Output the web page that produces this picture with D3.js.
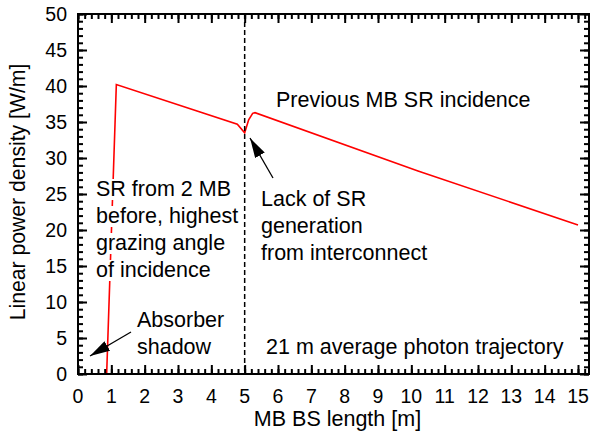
<!DOCTYPE html>
<html><head><meta charset="utf-8">
<script src="https://cdn.jsdelivr.net/npm/d3@7"></script>
<style>body{margin:0;background:#fff}svg{display:block}text{font-family:"Liberation Sans",Arial,Helvetica,sans-serif;fill:#000}</style>
</head><body><svg id="c" width="592" height="443"></svg>
<script>
const xs = [0, 0.86, 1.15, 4.78, 5.0, 5.12, 5.24, 5.31, 10.2, 15];
const ys = [0, 0, 40.2, 34.7, 33.5, 35.3, 36.2, 36.3, 28.2, 20.7];
const xTicks = d3.range(0, 16, 1);
const yTicks = d3.range(0, 51, 5);
const xMinor = d3.range(0, 15.31, 0.2);
const yMinor = d3.range(0, 50.1, 1);
const xTitle = "MB BS length [m]";
const yTitle = "Linear power density [W/m]";
const notes = [
  {lines:["Previous MB SR incidence"], x:276, y:107, bg:false},
  {lines:["SR from 2 MB","before, highest","grazing angle","of incidence"], x:96, y:196, bg:true},
  {lines:["Absorber","shadow"], x:137, y:327, bg:true},
  {lines:["Lack of SR","generation","from interconnect"], x:261, y:206, bg:true},
  {lines:["21 m average photon trajectory"], x:266, y:354, bg:false}
];

const svg = d3.select("#c");
const m = {l:78, t:14, r:3, b:69};
const W = 592, H = 443;
const x = d3.scaleLinear().domain([0, 15.33]).range([m.l, W - m.r]);
const y = d3.scaleLinear().domain([0, 50]).range([H - m.b, m.t]);
const pL = m.l, pR = W - m.r, pB = H - m.b, pT = m.t;

const defs = svg.append("defs");
defs.append("marker").attr("id","ah").attr("viewBox","0 0 20 11").attr("refX",20).attr("refY",5.5)
  .attr("markerWidth",20).attr("markerHeight",11).attr("markerUnits","userSpaceOnUse").attr("orient","auto")
  .append("path").attr("d","M0,0 L20,5.5 L0,11 Z").attr("fill","#000");

// data line
const data = xs.map((v,i)=>[v, ys[i]]);
svg.append("path").datum(data)
  .attr("d", d3.line().x(d=>x(d[0])).y(d=>y(d[1])))
  .attr("fill","none").attr("stroke","#ff0000").attr("stroke-width",1.6);

// dashed vertical at 5 m
svg.append("line").attr("x1",x(5)).attr("x2",x(5)).attr("y1",pT).attr("y2",pB)
  .attr("stroke","#000").attr("stroke-width",1.5).attr("stroke-dasharray","5,3");

// inward ticks on all four sides, via d3 axes
function axis(gen, tr, vals, size){
  const a = svg.append("g").attr("transform", tr)
    .call(gen.tickValues(vals).tickSize(size).tickFormat(""));
  a.select(".domain").remove();
  a.selectAll(".tick line").attr("stroke","#000").attr("stroke-width",2);
}
axis(d3.axisBottom(x), `translate(0,${pB})`, xMinor, -5);
axis(d3.axisBottom(x), `translate(0,${pB})`, xTicks, -9);
axis(d3.axisTop(x), `translate(0,${pT})`, xMinor, -5);
axis(d3.axisTop(x), `translate(0,${pT})`, xTicks, -9);
axis(d3.axisLeft(y), `translate(${pL},0)`, yMinor, -5);
axis(d3.axisLeft(y), `translate(${pL},0)`, yTicks, -9);
axis(d3.axisRight(y), `translate(${pR},0)`, yMinor, -5);
axis(d3.axisRight(y), `translate(${pR},0)`, yTicks, -9);

svg.append("rect").attr("x",pL).attr("y",pT).attr("width",pR-pL).attr("height",pB-pT)
  .attr("fill","none").attr("stroke","#000").attr("stroke-width",2);

// tick labels
svg.append("g").selectAll("text").data(xTicks).join("text")
  .attr("x",d=>x(d)).attr("y",pB+29).attr("text-anchor","middle").attr("font-size",19.5).text(d=>d);
svg.append("g").selectAll("text").data(yTicks).join("text")
  .attr("x",pL-11).attr("y",d=>y(d)+7).attr("text-anchor","end").attr("font-size",19.5).text(d=>d);

// titles
svg.append("text").attr("x",(pL+pR)/2 + 4).attr("y",426).attr("text-anchor","middle").attr("font-size",21.5).text(xTitle);
svg.append("text").attr("transform","translate(25,192) rotate(-90)").attr("text-anchor","middle").attr("font-size",21.2).text(yTitle);

// annotations
const lh = 27;
notes.forEach(n=>{
  const ng = svg.append("g");
  n.lines.forEach((t,i)=>{
    const tx = ng.append("text").attr("x",n.x).attr("y",n.y + i*lh).attr("font-size",21.5).text(t);
    if(n.bg){
      const bb = tx.node().getBBox();
      ng.insert("rect","text").attr("x",bb.x-2).attr("y",bb.y+2).attr("width",bb.width+4).attr("height",bb.height-3).attr("fill","#fff");
    }
  });
});

// arrows
svg.append("line").attr("x1",131).attr("y1",332).attr("x2",90).attr("y2",356)
  .attr("stroke","#000").attr("stroke-width",1.3).attr("marker-end","url(#ah)");
svg.append("line").attr("x1",273).attr("y1",178).attr("x2",250).attr("y2",138)
  .attr("stroke","#000").attr("stroke-width",1.3).attr("marker-end","url(#ah)");
</script></body></html>
